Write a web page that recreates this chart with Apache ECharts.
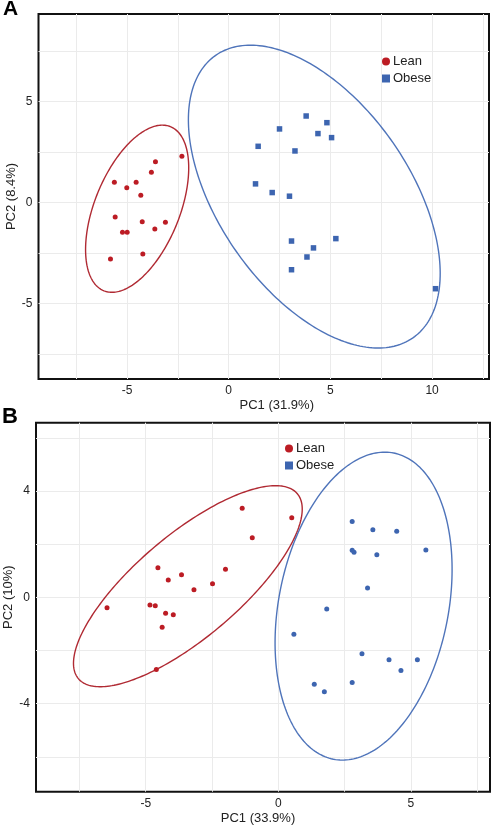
<!DOCTYPE html>
<html><head><meta charset="utf-8">
<script src="https://cdn.jsdelivr.net/npm/echarts@6/dist/echarts.min.js"></script>
<style>html,body{margin:0;padding:0;background:#fff}#c{width:493px;height:831px}</style>
</head><body><div id="c"></div><script>
// ---- Panel A data (PC1 31.9%, PC2 8.4%) ----
const leanA = [[-5.62,1.01],[-5.01,0.74],[-4.55,1.01],[-4.32,0.37],[-3.80,1.50],[-3.60,2.03],[-2.30,2.30],[-5.58,-0.71],[-5.22,-1.47],[-4.99,-1.47],[-4.25,-0.94],[-3.63,-1.30],[-3.11,-0.97],[-5.81,-2.79],[-4.22,-2.54]];
const obeseA = [[3.81,4.29],[4.83,3.96],[2.50,3.65],[4.39,3.42],[5.06,3.22],[1.45,2.79],[3.26,2.56],[1.32,0.93],[2.14,0.50],[2.99,0.32],[3.09,-1.90],[5.27,-1.78],[4.17,-2.24],[3.85,-2.69],[3.09,-3.32],[10.17,-4.26]];
// ---- Panel B data (PC1 33.9%, PC2 10%) ----
const leanB = [[-1.36,3.35],[0.51,2.99],[-0.98,2.24],[-4.54,1.11],[-1.99,1.06],[-3.65,0.85],[-4.15,0.65],[-2.48,0.51],[-3.18,0.29],[-6.46,-0.39],[-4.84,-0.29],[-4.64,-0.32],[-4.25,-0.60],[-3.96,-0.65],[-4.38,-1.12],[-4.60,-2.71]];
const obeseB = [[2.79,2.85],[3.57,2.54],[4.47,2.49],[2.79,1.77],[2.86,1.70],[3.72,1.60],[5.57,1.78],[3.37,0.35],[1.83,-0.44],[0.59,-1.39],[3.16,-2.12],[4.18,-2.35],[5.25,-2.35],[4.63,-2.75],[1.36,-3.27],[2.79,-3.20],[1.74,-3.55]];
// ---- confidence ellipses: centre, semi-axes, rotation (deg) ----
const ellLeanA = {cx:-4.5, cy:-0.3, a:4.38, b:2.09, angle:68.1};
const ellObeseA = {cx:4.21, cy:0.3, a:8.51, b:4.70, angle:-55.4};
const ellLeanB = {cx:-3.41, cy:0.42, a:5.40, b:1.94, angle:40.1};
const ellObeseB = {cx:3.22, cy:-0.33, a:5.87, b:3.20, angle:78.8};
// ---- axes ----
const xRangeA = [-9.35, 12.8], yRangeA = [-8.73, 9.34];
const xRangeB = [-9.14, 7.99], yRangeB = [-7.31, 6.57];
const xTicksA = [-5,0,5,10], yTicksA = [-5,0,5];
const xTicksB = [-5,0,5], yTicksB = [-4,0,4];
const xGridA = [-7.5,-5,-2.5,0,2.5,5,7.5,10,12.5], yGridA = [-7.5,-5,-2.5,0,2.5,5,7.5];
const xGridB = [-7.5,-5,-2.5,0,2.5,5,7.5], yGridB = [-6,-4,-2,0,2,4,6];
const groups = ['Lean','Obese'];
const xNames = ['PC1 (31.9%)','PC1 (33.9%)'];
const yNames = ['PC2 (8.4%)','PC2 (10%)'];
const panelLabels = ['A','B'];

const RED = '#BC1C24', BLUE = '#3D65B0', RED_L = '#B02A33', BLUE_L = '#4F74BA';
const FONT = "'Liberation Sans', Arial, Helvetica, sans-serif";

function xAxis(idx, range, ticks, name, pad){
  return {type:'value', gridIndex:idx, min:range[0], max:range[1], name:name, nameLocation:'middle', nameGap:20,
    nameMoveOverlap:false,
    nameTextStyle:{fontSize:13, color:'#222', fontFamily:FONT, padding:pad},
    axisLine:{show:false}, splitLine:{show:false},
    axisTick:{show:true, length:3, customValues:ticks, lineStyle:{color:'#777'}},
    axisLabel:{customValues:ticks, margin:6, fontSize:12, color:'#222', fontFamily:FONT,
      formatter:v=>ticks.indexOf(v)>=0?String(v):''}};
}
function yAxis(idx, range, ticks, name, pad){
  return {type:'value', gridIndex:idx, min:range[0], max:range[1], name:name, nameLocation:'middle', nameGap:21,
    nameMoveOverlap:false,
    nameTextStyle:{fontSize:13, color:'#222', fontFamily:FONT, padding:pad},
    axisLine:{show:false}, splitLine:{show:false},
    axisTick:{show:true, length:4, customValues:ticks, lineStyle:{color:'#777'}},
    axisLabel:{customValues:ticks, margin:6, fontSize:12, color:'#222', fontFamily:FONT,
      formatter:v=>ticks.indexOf(v)>=0?String(v):''}};
}
function gridLines(idx, xs, ys){
  return {type:'line', name:'grid'+idx, xAxisIndex:idx, yAxisIndex:idx, data:[], z:1, silent:true,
    markLine:{silent:true, z:1, symbol:'none', animation:false, label:{show:false},
      lineStyle:{color:'#EBEBEB', width:1, type:'solid'}, emphasis:{disabled:true},
      data: xs.map(v=>({xAxis:v})).concat(ys.map(v=>({yAxis:v})))}};
}
function ellipse(idx, e, color){
  return {type:'custom', name:'ellipse', xAxisIndex:idx, yAxisIndex:idx, clip:true, silent:true, z:3,
    data:[[e.cx, e.cy]],
    renderItem:function(params, api){
      const c = Math.cos(e.angle*Math.PI/180), s = Math.sin(e.angle*Math.PI/180);
      const pts = [];
      for (let i=0;i<=240;i++){
        const t = i/240*2*Math.PI, u = e.a*Math.cos(t), w = e.b*Math.sin(t);
        pts.push(api.coord([e.cx + u*c - w*s, e.cy + u*s + w*c]));
      }
      return {type:'polyline', shape:{points:pts}, style:{fill:null, stroke:color, lineWidth:1.4}};
    }};
}
function scatter(idx, name, data, symbol, size, color){
  return {type:'scatter', name:name, xAxisIndex:idx, yAxisIndex:idx, data:data, symbol:symbol,
    symbolSize:size, itemStyle:{color:color, opacity:1}, z:4};
}
function legend(left, top){
  return {left:left, top:top, orient:'vertical', itemWidth:8, itemHeight:8, itemGap:4, selectedMode:false,
    padding:0, z:6, textStyle:{fontSize:13, color:'#222', fontFamily:FONT, padding:[0,0,0,-2]},
    data:[{name:groups[0], icon:'circle'},{name:groups[1], icon:'rect'}]};
}

const chart = echarts.init(document.getElementById('c'), null, {renderer:'canvas'});
chart.setOption({
  animation:false,
  backgroundColor:'#fff',
  textStyle:{fontFamily:FONT},
  title:[
    {text:panelLabels[0], left:3, top:-1, padding:0, textStyle:{fontSize:21, fontWeight:'bold', color:'#000', fontFamily:FONT}},
    {text:panelLabels[1], left:2, top:406, padding:0, textStyle:{fontSize:22, fontWeight:'bold', color:'#000', fontFamily:FONT}}
  ],
  grid:[
    {left:38.5, top:14, width:450.5, height:365, show:true, borderColor:'#111', borderWidth:2, backgroundColor:'#fff', outerBoundsMode:'none', containLabel:false},
    {left:36, top:422.7, width:454, height:369, show:true, borderColor:'#111', borderWidth:2, backgroundColor:'#fff', outerBoundsMode:'none', containLabel:false}
  ],
  xAxis:[xAxis(0, xRangeA, xTicksA, xNames[0], [0,0,0,26]), xAxis(1, xRangeB, xTicksB, xNames[1], [0,10,0,0])],
  yAxis:[yAxis(0, yRangeA, yTicksA, yNames[0], [0,0,0,0]), yAxis(1, yRangeB, yTicksB, yNames[1], [0,0,0,20])],
  legend:[legend(382, 55), legend(285, 442)],
  series:[
    gridLines(0, xGridA, yGridA),
    gridLines(1, xGridB, yGridB),
    ellipse(0, ellLeanA, RED_L),
    ellipse(0, ellObeseA, BLUE_L),
    ellipse(1, ellLeanB, RED_L),
    ellipse(1, ellObeseB, BLUE_L),
    scatter(0, groups[0], leanA, 'circle', 5, RED),
    scatter(0, groups[1], obeseA, 'rect', 5.5, BLUE),
    scatter(1, groups[0], leanB, 'circle', 5, RED),
    scatter(1, groups[1], obeseB, 'circle', 5, BLUE)
  ]
});
</script></body></html>
